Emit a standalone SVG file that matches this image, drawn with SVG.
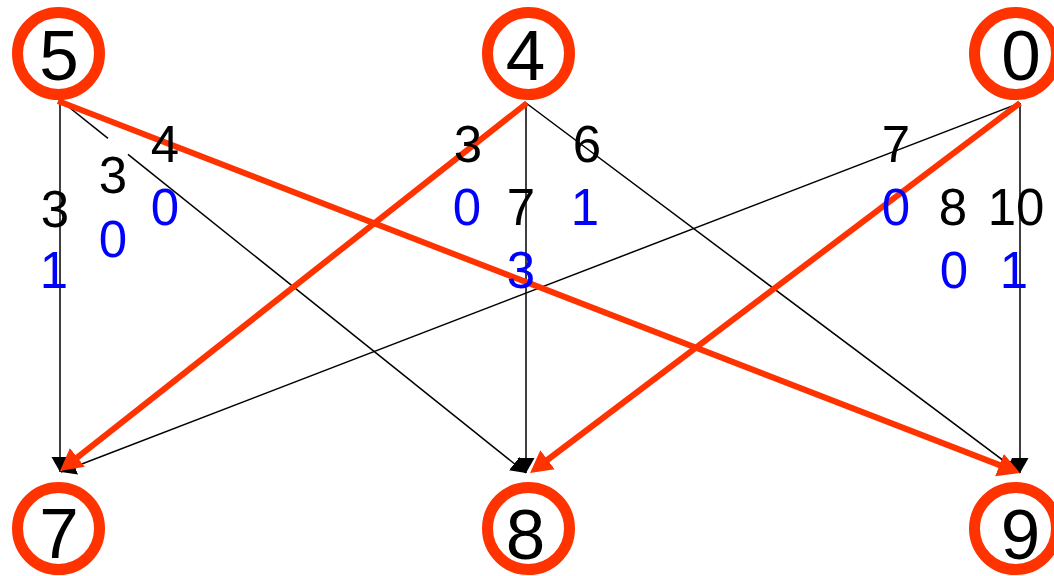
<svg xmlns="http://www.w3.org/2000/svg" width="1054" height="576" viewBox="0 0 1054 576">
<style>
.ring{fill:#fff;stroke:#FF3300;stroke-width:11}
.nt{font-family:"Liberation Sans",Arial,sans-serif;font-size:71px;fill:#000;text-anchor:middle}
.e{stroke:#000;stroke-width:1.5;fill:none}
.r{stroke:#FF3300;stroke-width:6;fill:none;stroke-linecap:butt}
.lb{font-family:"Liberation Sans",Arial,sans-serif;font-size:51px;text-anchor:middle;fill:#000}
.bl{fill:#0000FF}
</style>
<defs>
<marker id="ab" markerUnits="userSpaceOnUse" markerWidth="16" markerHeight="18" refX="15" refY="8.5" orient="auto" viewBox="0 0 16 18">
<path d="M0,0 L15,8.5 L0,17 z" fill="#000"/>
</marker>
<marker id="ar" markerUnits="userSpaceOnUse" markerWidth="23" markerHeight="25" refX="12" refY="12" orient="auto" viewBox="0 0 23 25">
<path d="M0,0 L22,12 L0,24 z" fill="#FF3300"/>
</marker>
</defs>
<g id="connectors">
<line class="e" x1="60" y1="100" x2="60" y2="472" marker-end="url(#ab)"/>
<line class="e" x1="60" y1="100" x2="108" y2="138.4"/>
<line class="e" x1="128" y1="154.4" x2="526" y2="473" marker-end="url(#ab)"/>
<line class="e" x1="526" y1="103" x2="526" y2="473" marker-end="url(#ab)"/>
<line class="e" x1="526" y1="103" x2="1020" y2="473" marker-end="url(#ab)"/>
<line class="e" x1="1020" y1="103" x2="61" y2="472" marker-end="url(#ab)"/>
<line class="e" x1="1020" y1="103" x2="1020" y2="473" marker-end="url(#ab)"/>
<line class="r" x1="58" y1="101" x2="1010.7" y2="469.4" marker-end="url(#ar)"/>
<line class="r" x1="527" y1="103" x2="67.9" y2="464.8" marker-end="url(#ar)"/>
<line class="r" x1="1020" y1="103" x2="538" y2="467" marker-end="url(#ar)"/>
</g>
<g id="labels">
<text class="lb" x="55" y="227">3</text>
<text class="lb bl" x="54" y="288">1</text>
<text class="lb" x="113" y="193">3</text>
<text class="lb bl" x="113" y="257">0</text>
<text class="lb" x="165" y="162">4</text>
<text class="lb bl" x="165" y="225">0</text>
<text class="lb" x="468" y="162">3</text>
<text class="lb bl" x="467" y="225">0</text>
<text class="lb" x="521" y="225">7</text>
<text class="lb bl" x="521" y="288">3</text>
<text class="lb" x="587" y="162">6</text>
<text class="lb bl" x="585" y="225">1</text>
<text class="lb" x="896" y="162">7</text>
<text class="lb bl" x="896" y="225">0</text>
<text class="lb" x="953" y="225">8</text>
<text class="lb" x="1016" y="225">10</text>
<text class="lb bl" x="954" y="288">0</text>
<text class="lb bl" x="1014" y="288">1</text>
</g>
<g id="node5"><circle class="ring" cx="58.5" cy="53.5" r="41"/><text class="nt" x="59" y="80">5</text></g>
<g id="node4"><circle class="ring" cx="528.5" cy="53.5" r="41"/><text class="nt" x="525.5" y="80">4</text></g>
<g id="node0"><circle class="ring" cx="1015.5" cy="53.5" r="41"/><text class="nt" x="1021" y="80">0</text></g>
<g id="node7"><circle class="ring" cx="58.5" cy="528.5" r="41"/><text class="nt" x="59" y="558">7</text></g>
<g id="node8"><circle class="ring" cx="528.5" cy="528.5" r="41"/><text class="nt" x="525.5" y="559">8</text></g>
<g id="node9"><circle class="ring" cx="1015.5" cy="528.5" r="41"/><text class="nt" x="1020.5" y="559">9</text></g>
</svg>
